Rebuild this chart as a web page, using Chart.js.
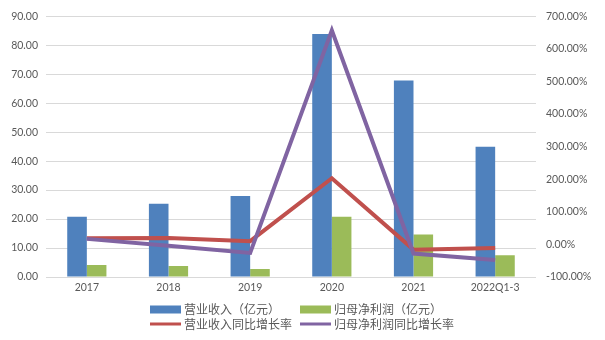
<!DOCTYPE html>
<html>
    <head>
        <meta charset="utf-8">
        <title>营业收入与归母净利润</title>
        <script src="https://cdn.jsdelivr.net/npm/chart.js@4.4.0/dist/chart.umd.min.js"></script>
        <style>
            body { margin: 0; background: #ffffff; }
            #wrap { width: 605px; height: 340px; position: relative; }
        </style>
    </head>
    <body>
        <div id="wrap">
            <canvas id="chartCanvas"></canvas>
        </div>
        <script type="text/javascript">
            // categories on the x axis
            const years = ['2017', '2018', '2019', '2020', '2021', '2022Q1-3'];

            // amounts in 亿元 (left axis)
            const revenue = [20.8, 25.3, 28.0, 83.9, 67.8, 45.0];
            const netProfit = [4.1, 3.8, 2.8, 20.8, 14.7, 7.5];

            // year-on-year growth in % (right axis)
            const revenueGrowth = [19, 20, 10, 203, -16, -11];
            const profitGrowth = [17, -4, -26, 657, -28, -48];

            const tickColor = '#595959';
            const gridColor = '#d9d9d9';

            // legend drawn as two columns x two rows under the plot
            const legendItems = [
                { text: '营业收入（亿元）', color: '#4f81bd', kind: 'box' },
                { text: '归母净利润（亿元）', color: '#9bbb59', kind: 'box' },
                { text: '营业收入同比增长率', color: '#c0504d', kind: 'line' },
                { text: '归母净利润同比增长率', color: '#8064a2', kind: 'line' }
            ];

            const gridLegend = {
                id: 'gridLegend',
                afterDraw(chart) {
                    const ctx = chart.ctx;
                    const colX = [150, 300];
                    const rowY = [309.5, 324];
                    ctx.save();
                    ctx.font = '12px "Noto Sans CJK SC"';
                    ctx.textBaseline = 'middle';
                    legendItems.forEach((item, i) => {
                        const x = colX[i % 2];
                        const y = rowY[Math.floor(i / 2)];
                        ctx.fillStyle = item.color;
                        if (item.kind === 'box') {
                            ctx.fillRect(x, y - 4, 31, 8);
                        } else {
                            ctx.fillRect(x, y - 1.5, 31, 3);
                        }
                        ctx.fillStyle = tickColor;
                        ctx.fillText(item.text, x + 34, y);
                    });
                    ctx.restore();
                }
            };

            const data = {
                labels: years,
                datasets: [
                    {
                        type: 'line',
                        label: '归母净利润同比增长率',
                        data: profitGrowth,
                        yAxisID: 'yRight',
                        borderColor: '#8064a2',
                        borderWidth: 4,
                        pointRadius: 0,
                        tension: 0,
                        order: 0
                    },
                    {
                        type: 'line',
                        label: '营业收入同比增长率',
                        data: revenueGrowth,
                        yAxisID: 'yRight',
                        borderColor: '#c0504d',
                        borderWidth: 4,
                        pointRadius: 0,
                        tension: 0,
                        order: 1
                    },
                    {
                        type: 'bar',
                        label: '营业收入（亿元）',
                        data: revenue,
                        yAxisID: 'yLeft',
                        backgroundColor: '#4f81bd',
                        categoryPercentage: 0.48,
                        barPercentage: 1.0,
                        order: 2
                    },
                    {
                        type: 'bar',
                        label: '归母净利润（亿元）',
                        data: netProfit,
                        yAxisID: 'yLeft',
                        backgroundColor: '#9bbb59',
                        categoryPercentage: 0.48,
                        barPercentage: 1.0,
                        order: 2
                    }
                ]
            };

            const tickFont = { family: 'Lato', size: 10.5 };

            const config = {
                data: data,
                plugins: [gridLegend],
                options: {
                    responsive: true,
                    maintainAspectRatio: false,
                    animation: false,
                    layout: { padding: { top: 11, left: 0, right: 0, bottom: 0 } },
                    plugins: {
                        legend: { display: false },
                        tooltip: { enabled: false }
                    },
                    scales: {
                        x: {
                            grid: { display: false, drawTicks: false },
                            border: { display: false },
                            ticks: { color: tickColor, font: tickFont, padding: 4, maxRotation: 0 },
                            afterFit: scale => { scale.height = 63; }
                        },
                        yLeft: {
                            position: 'left',
                            min: 0,
                            max: 90,
                            grid: { color: gridColor, lineWidth: 1, drawTicks: false },
                            border: { display: false },
                            ticks: {
                                stepSize: 10,
                                color: tickColor,
                                font: tickFont,
                                padding: 8,
                                callback: v => v.toFixed(2)
                            },
                            afterFit: scale => { scale.width = 46; }
                        },
                        yRight: {
                            position: 'right',
                            min: -100,
                            max: 700,
                            grid: { display: false, drawTicks: false },
                            border: { display: false },
                            ticks: {
                                stepSize: 100,
                                color: tickColor,
                                font: tickFont,
                                padding: 10,
                                callback: v => v.toFixed(2) + '%'
                            },
                            afterFit: scale => { scale.width = 69; }
                        }
                    }
                }
            };

            new Chart(document.getElementById('chartCanvas').getContext('2d'), config);
        </script>
    </body>
</html>
